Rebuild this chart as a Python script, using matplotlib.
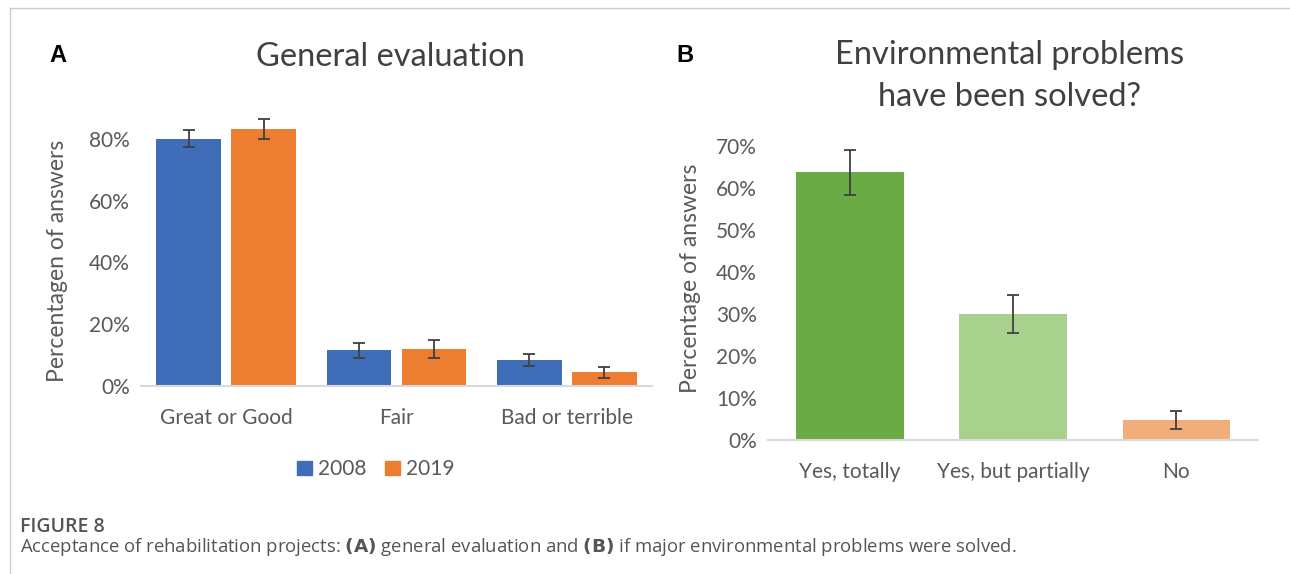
import numpy as np
import matplotlib
matplotlib.use("Agg")
import matplotlib.pyplot as plt
from matplotlib.lines import Line2D
from matplotlib.patches import Patch

# panel A data
cats_a = ["Great or Good", "Fair", "Bad or terrible"]
vals_2008 = [0.80, 0.115, 0.083]
err_2008 = [0.028, 0.023, 0.019]
vals_2019 = [0.832, 0.12, 0.045]
err_2019 = [0.032, 0.029, 0.018]
ticks_a = [0, 0.2, 0.4, 0.6, 0.8]

# panel B data
cats_b = ["Yes, totally", "Yes, but partially", "No"]
vals_b = [0.638, 0.301, 0.0475]
err_b = [0.054, 0.045, 0.021]
ticks_b = [0, 0.1, 0.2, 0.3, 0.4, 0.5, 0.6, 0.7]

BLUE = "#3F6DB8"
ORANGE = "#ED7D31"
GREENS = ["#6AAB45", "#A9D18E", "#F2AE7A"]
GRAY_TXT = "#595959"
AXIS_COL = "#D9D9D9"
ERR_COL = "#404040"

plt.rcParams["font.family"] = ["Lato", "DejaVu Sans"]

fig = plt.figure(figsize=(12.9, 5.74), dpi=100)

def style_axis(ax, ticks):
    for s in ["top", "right", "left"]:
        ax.spines[s].set_visible(False)
    ax.spines["bottom"].set_color(AXIS_COL)
    ax.spines["bottom"].set_linewidth(1.5)
    ax.set_yticks(ticks)
    ax.set_yticklabels([f"{int(round(t*100))}%" for t in ticks])
    ax.tick_params(axis="both", length=0, labelsize=15, colors=GRAY_TXT, pad=8)
    ax.tick_params(axis="x", pad=16)

# ---- panel A
ax1 = fig.add_axes([0.1093, 0.3275, 0.396, 0.474])
x = np.arange(len(cats_a))
w = 0.38
ekw = dict(ecolor=ERR_COL, elinewidth=1.3, capsize=4, capthick=1.3)
ax1.bar(x - 0.22, vals_2008, w, color=BLUE, yerr=err_2008, error_kw=ekw)
ax1.bar(x + 0.22, vals_2019, w, color=ORANGE, yerr=err_2019, error_kw=ekw)
ax1.set_xlim(-0.5, len(cats_a) - 0.5)
ax1.set_ylim(0, 0.88)
ax1.set_xticks(x)
ax1.set_xticklabels(cats_a)
style_axis(ax1, ticks_a)
ax1.set_ylabel("Percentagen of answers", fontsize=16.5, color=GRAY_TXT)
ax1.yaxis.set_label_coords(-0.143, 0.46)
handles = [Patch(color=BLUE, label="2008"), Patch(color=ORANGE, label="2019")]
ax1.legend(handles=handles, loc="upper center", bbox_to_anchor=(0.46, -0.2), ncol=2,
           frameon=False, fontsize=15, labelcolor=GRAY_TXT, handlelength=0.7,
           handleheight=0.7, handletextpad=0.3, columnspacing=0.9)

fig.text(390/1290, 1 - 57/574, "General evaluation", fontsize=23.5,
         color="#404040", ha="center", va="center")

# ---- panel B
ax2 = fig.add_axes([0.5953, 0.2334, 0.380, 0.526])
xb = np.arange(len(cats_b))
ax2.bar(xb, vals_b, 0.66, color=GREENS, yerr=err_b, error_kw=ekw)
ax2.set_xlim(-0.5, len(cats_b) - 0.5)
ax2.set_ylim(0, 0.72)
ax2.set_xticks(xb)
ax2.set_xticklabels(cats_b)
style_axis(ax2, ticks_b)
ax2.set_ylabel("Percentage of answers", fontsize=16.5, color=GRAY_TXT)
ax2.yaxis.set_label_coords(-0.137, 0.536)

fig.text(1010/1290, 1 - 76/574, "Environmental problems\nhave been solved?", fontsize=23.5,
         color="#404040", ha="center", va="center", linespacing=1.5)

# panel letters
fig.text(58/1290, 1 - 55/574, "A", fontsize=17, fontweight="bold", family="Liberation Sans",
         ha="center", va="center")
fig.text(685/1290, 1 - 55/574, "B", fontsize=17, fontweight="bold", family="Liberation Sans",
         ha="center", va="center")

# frame lines of the figure box
fig.add_artist(Line2D([10/1290, 1], [1 - 8/574, 1 - 8/574], color="#CCCCCC", lw=1))
fig.add_artist(Line2D([10/1290, 10/1290], [0, 1 - 8/574], color="#CCCCCC", lw=1))

# caption
fig.text(20/1290, 1 - 527/574, "FIGURE 8", fontsize=14, fontweight="semibold",
         color="#555555", family="Open Sans", va="center")
fig.text(20/1290, 1 - 547/574,
         "Acceptance of rehabilitation projects: $\\bf{(A)}$ general evaluation and "
         "$\\bf{(B)}$ if major environmental problems were solved.",
         fontsize=13.3, color="#555555", family="Open Sans", va="center")

fig.savefig("out.png", dpi=100)
